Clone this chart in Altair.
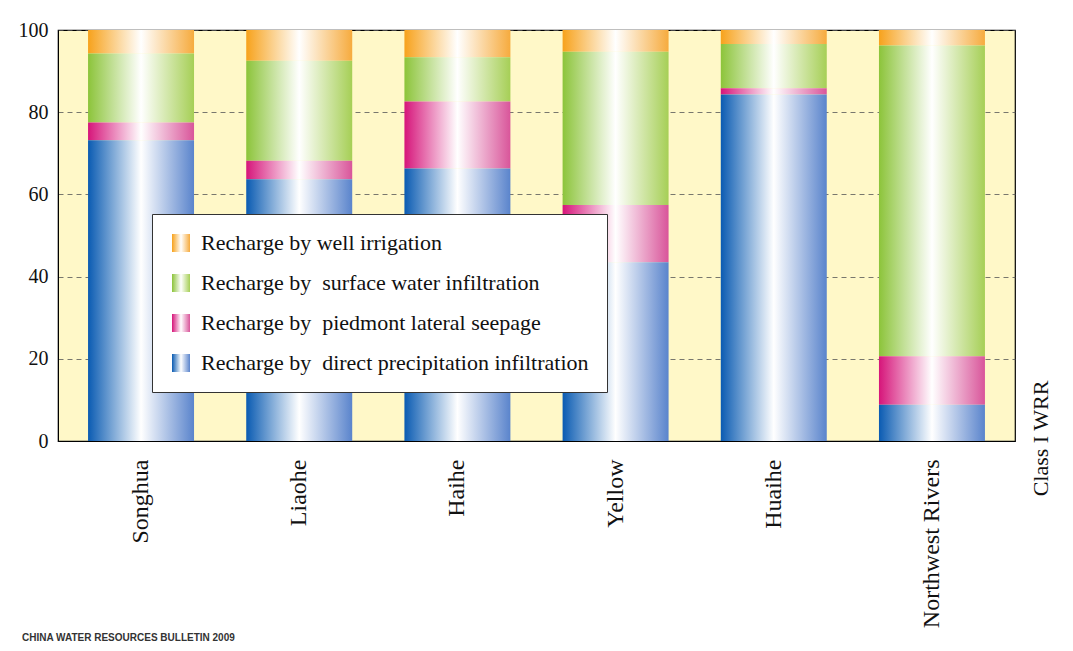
import altair as alt
import pandas as pd

rivers = ["Songhua", "Liaohe", "Haihe", "Yellow", "Huaihe", "Northwest Rivers"]
direct = [73.2, 63.7, 66.3, 43.5, 84.3, 8.8]
piedmont = [4.3, 4.5, 16.3, 13.9, 1.5, 11.8]
surface = [16.8, 24.3, 10.8, 37.3, 10.8, 75.6]
well = [5.7, 7.5, 6.6, 5.3, 3.4, 3.8]

series_names = [
    "Recharge by well irrigation",
    "Recharge by\u00a0 surface water infiltration",
    "Recharge by\u00a0 piedmont lateral seepage",
    "Recharge by\u00a0 direct precipitation infiltration",
]
series_values = [well, surface, piedmont, direct]
stack_rank = [3, 2, 1, 0]

# gradient colours (left edge, right edge)
grad_colors = [
    ("#f7a21c", "#f6ab3e"),
    ("#8cc43a", "#a6cf56"),
    ("#d6157a", "#d9559a"),
    ("#0a5bb2", "#5a84cc"),
]

rows = []
for name, vals, rank in zip(series_names, series_values, stack_rank):
    for r, v in zip(rivers, vals):
        rows.append({"river": r, "series": name, "value": v, "rank": rank})
df = pd.DataFrame(rows)


def grad(c0, c1):
    return alt.ExprRef(
        expr=(
            "{gradient:'linear',x1:0,y1:0,x2:1,y2:0,stops:["
            "{offset:0,color:'%s'},{offset:0.5,color:'#ffffff'},{offset:1,color:'%s'}]}"
            % (c0, c1)
        )
    )


serif = "Liberation Serif"

chart = (
    alt.Chart(df)
    .mark_bar()
    .encode(
        x=alt.X(
            "river:N",
            sort=rivers,
            scale=alt.Scale(paddingInner=0.33, paddingOuter=0.19),
            axis=alt.Axis(
                labelAngle=-90,
                labelFont=serif,
                labelFontSize=24,
                labelColor="#111",
                labelPadding=18,
                ticks=False,
                domainColor="#000",
                title="Class I WRR",
                titleFont=serif,
                titleFontSize=22,
                titleFontWeight="normal",
                titleColor="#111",
                titleAngle=270,
                titleAlign="center",
                titleBaseline="middle",
                titleX=982,
                titleY=-3,
            ),
        ),
        y=alt.Y(
            "value:Q",
            stack="zero",
            scale=alt.Scale(domain=[0, 100], nice=False),
            axis=alt.Axis(
                values=[0, 20, 40, 60, 80, 100],
                labelFont=serif,
                labelFontSize=20,
                labelColor="#111",
                labelPadding=10,
                ticks=False,
                grid=True,
                gridDash=[5, 4],
                gridColor="#555",
                gridWidth=0.8,
                domainColor="#000",
                title=None,
            ),
        ),
        color=alt.Color(
            "series:N",
            title=None,
            scale=alt.Scale(
                domain=series_names,
                range=[grad(a, b) for a, b in grad_colors],
            ),
            legend=alt.Legend(
                orient="none",
                legendX=94,
                legendY=184,
                fillColor="#ffffff",
                strokeColor="#333333",
                padding=18,
                symbolType="square",
                symbolSize=324,
                symbolStrokeWidth=0,
                labelFont=serif,
                labelFontSize=22,
                labelColor="#111",
                labelOffset=9,
                labelLimit=600,
                rowPadding=18,
            ),
        ),
        order=alt.Order("rank:Q", sort="ascending"),
    )
    .properties(
        width=957,
        height=411,
        padding={"left": 10, "top": 12, "right": 5, "bottom": 2},
        title=alt.TitleParams(
            text="CHINA WATER RESOURCES BULLETIN 2009",
            orient="bottom",
            anchor="start",
            frame="group",
            dx=-36,
            dy=5,
            offset=0,
            font="Liberation Sans",
            fontSize=10,
            fontWeight="bold",
            color="#333",
        ),
    )
    .configure(background="#ffffff", font=serif)
    .configure_view(fill="#FFF8C8", stroke="#000", strokeWidth=1.2)
)

chart.save("out.html", embed_options={"renderer": "svg", "actions": False})
